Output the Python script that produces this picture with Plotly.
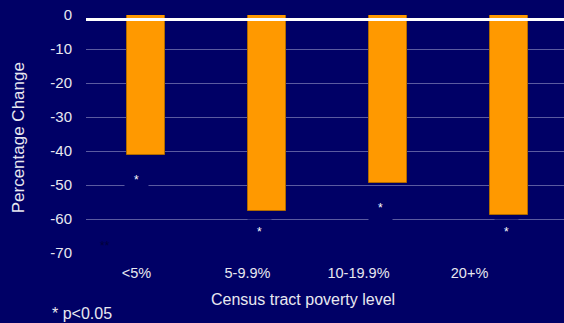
import plotly.graph_objects as go

# ---- data ----
categories = ["<5%", "5-9.9%", "10-19.9%", "20+%"]
pct_change = [-41.2, -57.5, -49.5, -58.7]
star_level = [-47.6, -62.8, -55.8, -62.8]
star_text = ["*", "*", "*", "*"]
y_ticks = [0, -10, -20, -30, -40, -50, -60, -70]
x_title = "Census tract poverty level"
y_title = "Percentage Change"
footnote = "* p<0.05"

BG = "#000066"
GRID = "#5a5aa0"
TXT = "#e8e8f0"
FONT = "Liberation Sans, Arial, sans-serif"

fig = go.Figure()
fig.add_trace(go.Bar(
    x=list(range(len(categories))), y=pct_change, width=0.31,
    marker=dict(color="#FF9900", line=dict(color="#B06A00", width=1)),
    hoverinfo="skip", showlegend=False,
))
# invisible trace carrying the category labels axis
fig.add_trace(go.Scatter(
    x=categories, y=pct_change, xaxis="x2", mode="markers",
    marker=dict(opacity=0), hoverinfo="skip", showlegend=False,
))

star_shift = [-9, -7, -7, -2]
for i, (lv, t) in enumerate(zip(star_level, star_text)):
    fig.add_annotation(
        x=i, y=lv, xref="x", yref="y", text=t, showarrow=False,
        font=dict(family=FONT, size=12, color="white"),
        bgcolor=BG, width=21, height=22, xshift=star_shift[i], yshift=-3,
    )

fig.add_annotation(x=-0.34, y=-68, xref="x", yref="y", text="**", showarrow=False,
                   font=dict(family=FONT, size=12, color="#00003a"))

fig.add_annotation(x=0.453, y=-0.197, xref="paper", yref="paper", text=x_title,
                   showarrow=False, xanchor="center", yanchor="middle",
                   font=dict(family=FONT, size=16, color=TXT))
fig.add_annotation(x=-0.0753, y=-0.256, xref="paper", yref="paper", text=footnote,
                   showarrow=False, xanchor="left", yanchor="middle",
                   font=dict(family=FONT, size=16, color=TXT))
fig.add_annotation(x=-0.1423, y=0.486, xref="paper", yref="paper", text=y_title,
                   showarrow=False, textangle=-90, xanchor="center", yanchor="middle",
                   font=dict(family=FONT, size=17, color=TXT))

fig.update_layout(
    width=564, height=323,
    margin=dict(l=86, r=0, t=15, b=70),
    paper_bgcolor=BG, plot_bgcolor=BG,
    font=dict(family=FONT, color=TXT),
    bargap=0,
    xaxis=dict(range=[-0.494, 3.456], showgrid=False, zeroline=False,
               showticklabels=False, showline=True, linecolor="white", linewidth=2.5,
               side="top", anchor="free", position=0.985),
    xaxis2=dict(overlaying="x", anchor="y", side="bottom", type="category",
                range=[-0.455, 3.851], showgrid=False, zeroline=False, showline=False,
                tickfont=dict(family=FONT, size=14.5, color=TXT), ticks="",
                ticklabelstandoff=9),
    yaxis=dict(range=[-70, 0], tickvals=y_ticks, ticktext=[str(v) for v in y_ticks],
               showgrid=True, gridcolor=GRID, gridwidth=1, zeroline=False,
               showline=False, ticks="", ticklabelstandoff=13,
               tickfont=dict(family=FONT, size=15, color=TXT)),
)

fig.write_html("out.html")
